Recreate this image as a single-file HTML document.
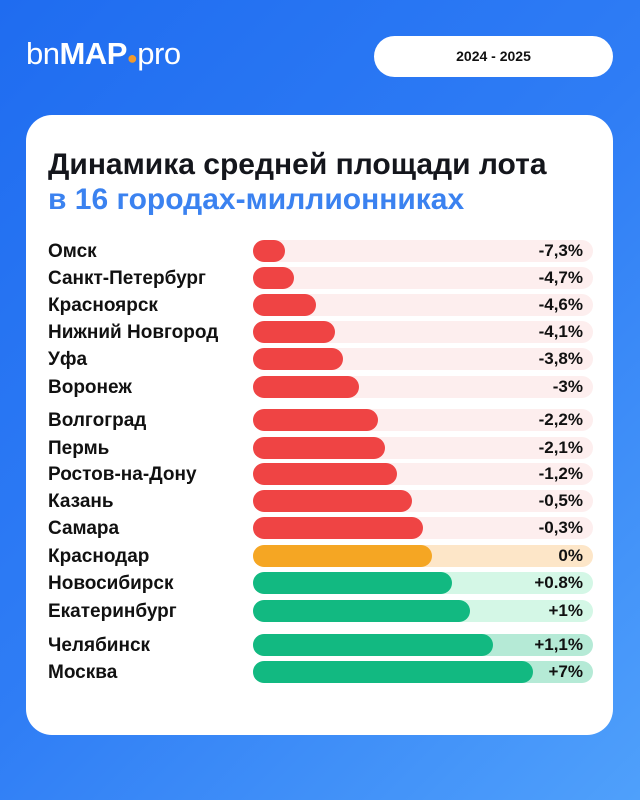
<!DOCTYPE html>
<html><head><meta charset="utf-8"><style>
*{margin:0;padding:0;box-sizing:border-box}
body{width:640px;height:800px;overflow:hidden;font-family:"Liberation Sans","Noto Sans CJK SC",sans-serif;background:linear-gradient(135deg,#1f6cf0 0%,#2f7df5 50%,#4fa0fb 100%);position:relative}
.logo{position:absolute;left:26px;top:36px;color:#fff;font-size:31px;letter-spacing:-0.5px}
.logo b{font-weight:700}
.pill{position:absolute;left:374px;top:36px;width:239px;height:41px;background:#fff;border-radius:21px;text-align:center;line-height:41px;font-weight:700;font-size:14px;color:#111}
.card{position:absolute;left:26px;top:115px;width:587px;height:620px;background:#fff;border-radius:26px}
h1{position:absolute;left:48px;top:147px;font-size:30px;font-weight:700;color:#14161c;line-height:35px;white-space:nowrap}
h1 span{color:#3b82f0}
.lab{position:absolute;left:48px;font-size:19px;font-weight:700;color:#111;line-height:22px;white-space:nowrap;margin-top:1px}
.tr{position:absolute;left:253px;width:340px;height:22px;border-radius:11px}
.bar{position:absolute;left:0;top:0;height:22px;border-radius:11px}
.v{position:absolute;right:10px;top:0;line-height:22px;font-size:17px;font-weight:700;color:#111}
</style></head><body>
<div class="logo">bn<b>MAP</b><span style="color:#f39a2c;font-size:18px">●</span>pro</div>
<div class="pill">2024 - 2025</div>
<div class="card"></div>
<h1>Динамика средней площади лота<br><span>в 16 городах-миллионниках</span></h1>

<div class="lab" style="top:240px">Омск</div>
<div class="tr" style="top:240px;background:#fdeeee"><div class="bar" style="width:32px;background:#ef4444"></div><div class="v">-7,3%</div></div>
<div class="lab" style="top:267px">Санкт-Петербург</div>
<div class="tr" style="top:267px;background:#fdeeee"><div class="bar" style="width:41px;background:#ef4444"></div><div class="v">-4,7%</div></div>
<div class="lab" style="top:294px">Красноярск</div>
<div class="tr" style="top:294px;background:#fdeeee"><div class="bar" style="width:63px;background:#ef4444"></div><div class="v">-4,6%</div></div>
<div class="lab" style="top:321px">Нижний Новгород</div>
<div class="tr" style="top:321px;background:#fdeeee"><div class="bar" style="width:82px;background:#ef4444"></div><div class="v">-4,1%</div></div>
<div class="lab" style="top:348px">Уфа</div>
<div class="tr" style="top:348px;background:#fdeeee"><div class="bar" style="width:90px;background:#ef4444"></div><div class="v">-3,8%</div></div>
<div class="lab" style="top:376px">Воронеж</div>
<div class="tr" style="top:376px;background:#fdeeee"><div class="bar" style="width:106px;background:#ef4444"></div><div class="v">-3%</div></div>
<div class="lab" style="top:409px">Волгоград</div>
<div class="tr" style="top:409px;background:#fdeeee"><div class="bar" style="width:125px;background:#ef4444"></div><div class="v">-2,2%</div></div>
<div class="lab" style="top:437px">Пермь</div>
<div class="tr" style="top:437px;background:#fdeeee"><div class="bar" style="width:132px;background:#ef4444"></div><div class="v">-2,1%</div></div>
<div class="lab" style="top:463px">Ростов-на-Дону</div>
<div class="tr" style="top:463px;background:#fdeeee"><div class="bar" style="width:144px;background:#ef4444"></div><div class="v">-1,2%</div></div>
<div class="lab" style="top:490px">Казань</div>
<div class="tr" style="top:490px;background:#fdeeee"><div class="bar" style="width:159px;background:#ef4444"></div><div class="v">-0,5%</div></div>
<div class="lab" style="top:517px">Самара</div>
<div class="tr" style="top:517px;background:#fdeeee"><div class="bar" style="width:170px;background:#ef4444"></div><div class="v">-0,3%</div></div>
<div class="lab" style="top:545px">Краснодар</div>
<div class="tr" style="top:545px;background:#fde6c8"><div class="bar" style="width:179px;background:#f5a623"></div><div class="v">0%</div></div>
<div class="lab" style="top:572px">Новосибирск</div>
<div class="tr" style="top:572px;background:#d4f7e6"><div class="bar" style="width:199px;background:#12b981"></div><div class="v">+0.8%</div></div>
<div class="lab" style="top:600px">Екатеринбург</div>
<div class="tr" style="top:600px;background:#d4f7e6"><div class="bar" style="width:217px;background:#12b981"></div><div class="v">+1%</div></div>
<div class="lab" style="top:634px">Челябинск</div>
<div class="tr" style="top:634px;background:#b5ead6"><div class="bar" style="width:240px;background:#12b981"></div><div class="v">+1,1%</div></div>
<div class="lab" style="top:661px">Москва</div>
<div class="tr" style="top:661px;background:#b5ead6"><div class="bar" style="width:280px;background:#12b981"></div><div class="v">+7%</div></div>
</body></html>
